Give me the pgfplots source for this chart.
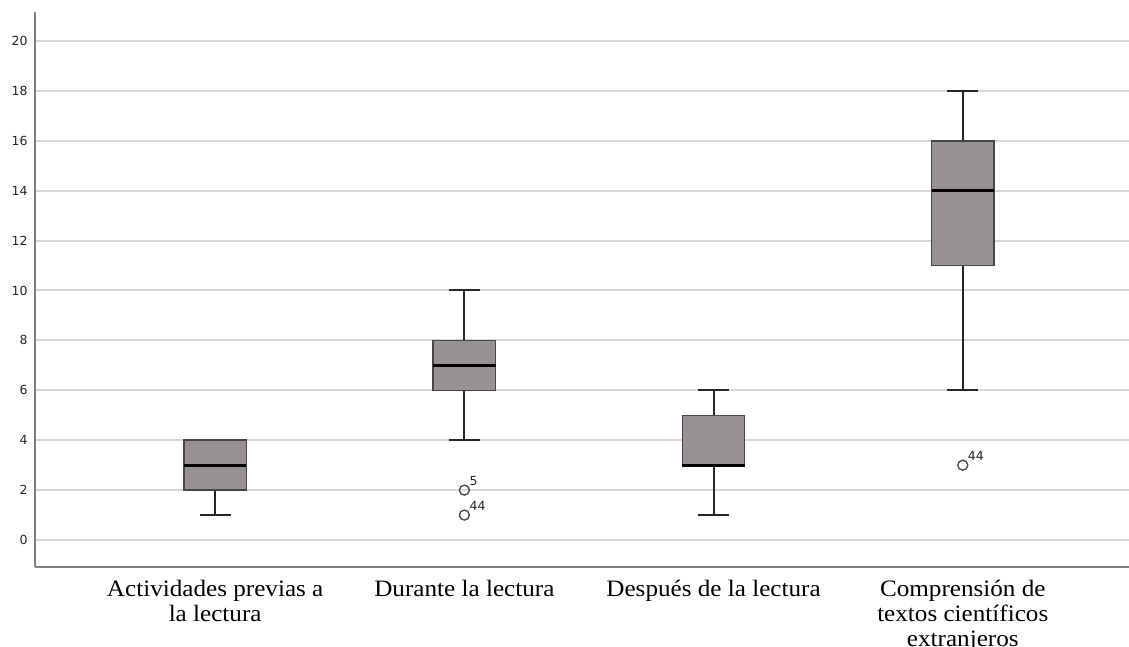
\documentclass[border=0pt]{standalone}
\usepackage{pgfplots}
\pgfplotsset{compat=1.18}
\usepgfplotslibrary{statistics}
\usepackage{fontspec}
\setmainfont{Liberation Serif}
\newfontfamily\catfont[FakeStretch=1.07]{Liberation Serif}
\newfontfamily\ticksf{DejaVu Sans}
\definecolor{boxfill}{RGB}{150,146,146}
\definecolor{boxedge}{RGB}{70,70,70}
\definecolor{gridc}{RGB}{215,215,215}
\definecolor{axisc}{RGB}{125,125,125}
\begin{document}
\begin{tikzpicture}
\begin{axis}[name=ax, scale only axis, width=1094pt, height=555pt,
  xmin=0.277, xmax=4.667, ymin=-1.08, ymax=21.16,
  axis x line*=bottom, axis y line*=left,
  axis line style={draw=axisc, line width=1.8pt},
  ytick={0,2,...,20}, ymajorgrids,
  grid style={draw=gridc, line width=2pt},
  major tick length=0pt,
  xtick={1,2,3,4},
  xticklabels={{Actividades previas a\\la lectura},{Durante la lectura},{Después de la lectura},{Comprensión de\\textos científicos\\extranjeros}},
  xticklabel style={align=center, font=\catfont\fontsize{23.5}{25}\selectfont, yshift=-10pt},
  yticklabel style={font=\ticksf\fontsize{12.5}{14}\selectfont, text=black!85, xshift=-4pt},
  /pgf/number format/assume math mode=true,
  boxplot/draw direction=y,
  boxplot/box extend=0.25,
  boxplot/whisker extend=0.125,
  boxplot/every box/.style={fill=boxfill, draw=boxedge, line width=1.5pt},
  boxplot/every whisker/.style={draw=black!85, line width=2pt},
  boxplot/every median/.style={draw=black, line width=3pt},
]
\addplot[boxplot prepared={lower whisker=1, lower quartile=2, median=3, upper quartile=4, upper whisker=4, draw position=1}] coordinates {};
\addplot[boxplot prepared={lower whisker=4, lower quartile=6, median=7, upper quartile=8, upper whisker=10, draw position=2}] coordinates {};
\addplot[boxplot prepared={lower whisker=1, lower quartile=3, median=3, upper quartile=5, upper whisker=6, draw position=3}] coordinates {};
\addplot[boxplot prepared={lower whisker=6, lower quartile=11, median=14, upper quartile=16, upper whisker=18, draw position=4}] coordinates {};
\addplot[only marks, mark=o, mark size=5pt, mark options={draw=black!70, line width=1.4pt},
  nodes near coords, point meta=explicit symbolic,
  every node near coord/.style={anchor=south west, inner sep=0.5pt, xshift=4pt, yshift=3pt, font=\ticksf\fontsize{12.5}{14}\selectfont, text=black!85}]
  table[meta=lab] {
x y lab
2 2 5
2 1 44
4 3 44
};
\end{axis}
\pgfresetboundingbox
\path[use as bounding box] ([xshift=-35pt,yshift=-80pt]ax.south west) rectangle ([yshift=12pt]ax.north east);
\end{tikzpicture}
\end{document}
